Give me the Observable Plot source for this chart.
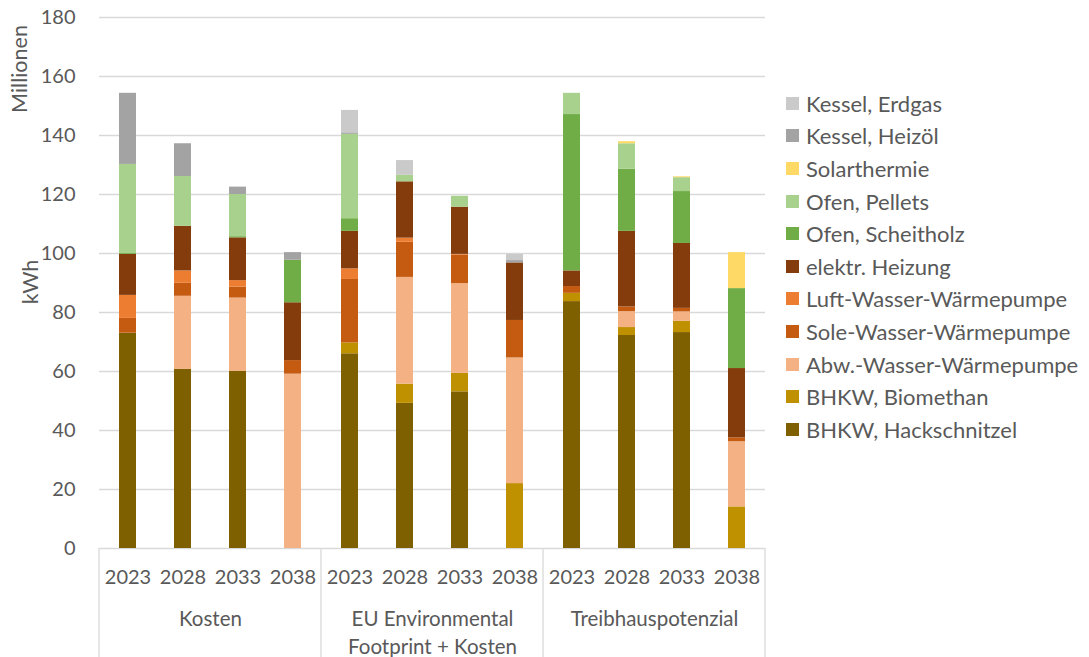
<!DOCTYPE html>
<html>
<head>
<meta charset="utf-8">
<script src="https://cdn.jsdelivr.net/npm/d3@7"></script>
<script src="https://cdn.jsdelivr.net/npm/@observablehq/plot@0.6"></script>
<style>
  body { margin: 0; background: #fff; font-family: Lato, "Open Sans", sans-serif; color: #595959; }
  #wrap { position: relative; width: 1089px; height: 657px; overflow: hidden; }
  #legend { position: absolute; left: 786px; top: 87px; font-size: 22px; }
  #legend .row { display: flex; align-items: center; height: 32.6px; white-space: nowrap; }
  #legend .sw { width: 13px; height: 13px; margin-right: 7px; flex: none; }
  .ylab { position: absolute; font-size: 21.5px; white-space: nowrap;
          transform: translate(-50%, -50%) rotate(-90deg); }
  #unit { left: 19px; top: 69px; }
  #title-y { left: 30px; top: 282px; }
</style>
</head>
<body>
<div id="wrap"></div>
<script>
// Szenarien (Gruppen) und Stützjahre
const groups = ["Kosten", "EU Environmental\nFootprint + Kosten", "Treibhauspotenzial"];
const years = ["2023", "2028", "2033", "2038"];

// Wärmeerzeuger, von unten nach oben gestapelt
const seriesNames = [
  "BHKW, Hackschnitzel",
  "BHKW, Biomethan",
  "Abw.-Wasser-Wärmepumpe",
  "Sole-Wasser-Wärmepumpe",
  "Luft-Wasser-Wärmepumpe",
  "elektr. Heizung",
  "Ofen, Scheitholz",
  "Ofen, Pellets",
  "Solarthermie",
  "Kessel, Heizöl",
  "Kessel, Erdgas"
];
const seriesColors = [
  "#7f6000", "#bf9000", "#f4b183", "#c55a11", "#ed7d31",
  "#843c0c", "#70ad47", "#a9d18e", "#ffd966", "#a3a3a3", "#cacaca"
];

// Wärmemengen in Millionen kWh, je Balken: Kosten 2023..2038, EU EF 2023..2038, THG 2023..2038
const hackschnitzel = [73.0, 60.7, 60.0, 0,    66.0, 49.2, 53.1, 0,    83.7, 72.2, 73.2, 0];
const biomethan     = [0,    0,    0,    0,    3.7,  6.5,  6.3,  22.0, 2.8,  2.7,  3.8,  14.1];
const abwasserWP    = [0,    24.8, 24.9, 59.1, 0,    36.2, 30.4, 42.6, 0,    5.4,  3.2,  22.1];
const soleWP        = [5.0,  4.4,  3.7,  4.6,  21.5, 11.9, 9.7,  12.7, 2.3,  1.6,  1.2,  1.3];
const luftWP        = [7.8,  4.2,  2.2,  0,    3.6,  1.4,  0.2,  0,    0,    0,    0,    0];
const elektrHeizung = [13.9, 15.1, 14.5, 19.6, 12.7, 19.1, 16.0, 19.5, 5.3,  25.6, 22.0, 23.5];
const scheitholz    = [0.3,  0,    0.4,  14.4, 4.3,  0,    0,    0,    53.0, 21.1, 17.6, 27.1];
const pellets       = [30.2, 16.9, 14.3, 0,    28.6, 2.2,  3.7,  0,    7.2,  8.6,  4.7,  0];
const solarthermie  = [0,    0,    0,    0,    0,    0,    0,    0,    0,    0.7,  0.3,  12.2];
const heizoel       = [24.1, 11.1, 2.5,  2.6,  0.5,  0,    0,    0.8,  0,    0,    0,    0];
const erdgas        = [0,    0,    0,    0,    7.6,  5.0,  0,    2.1,  0,    0,    0,    0];

const seriesValues = [
  hackschnitzel, biomethan, abwasserWP, soleWP, luftWP,
  elektrHeizung, scheitholz, pellets, solarthermie, heizoel, erdgas
];

const yTicks = [0, 20, 40, 60, 80, 100, 120, 140, 160, 180];

// Lange Tabelle für den gestapelten Balken
const rows = [];
seriesNames.forEach((name, s) => {
  seriesValues[s].forEach((v, i) => {
    rows.push({
      group: groups[Math.floor(i / years.length)],
      year: years[i % years.length],
      series: name,
      value: v
    });
  });
});

const grid = "#d9d9d9";
const chart = Plot.plot({
  width: 1089,
  height: 657,
  marginLeft: 98,
  marginRight: 324,
  marginTop: 17,
  marginBottom: 109,
  style: { fontFamily: "Lato, 'Open Sans', sans-serif", fontSize: "20px", color: "#595959", background: "white", overflow: "visible" },
  fx: { domain: groups, padding: 0, label: null },
  x: { domain: years, paddingInner: 0.685, paddingOuter: 0.3425, label: null },
  y: { domain: [0, 180], label: null },
  color: { domain: seriesNames, range: seriesColors },
  marks: [
    Plot.gridY(yTicks, { stroke: grid, strokeOpacity: 1, strokeWidth: 1.3 }),
    Plot.axisY(yTicks, { tickSize: 0, tickPadding: 24, fontSize: 20, label: null }),
    Plot.axisX({ tickSize: 0, tickPadding: 21, fontSize: 20, label: null }),
    Plot.axisFx({ anchor: "bottom", tickSize: 0, tickPadding: 58, fontSize: 20.5, lineHeight: 1.35, label: null }),
    Plot.barY(rows, { fx: "group", x: "year", y: "value", fill: "series", order: seriesNames })
  ]
});

const wrap = document.getElementById("wrap");
wrap.appendChild(chart);

// Trennlinien der Kategoriegruppen unterhalb der Achse
const fx = chart.scale("fx");
const y = chart.scale("y");
const edges = groups.map(g => fx.apply(g)).concat(fx.apply(groups[groups.length - 1]) + fx.bandwidth);
d3.select(chart).append("g")
  .selectAll("line").data(edges).join("line")
  .attr("x1", d => d).attr("x2", d => d)
  .attr("y1", y.apply(0)).attr("y2", 657)
  .attr("stroke", grid).attr("stroke-width", 1.3);

// Achsentitel und Einheit
for (const [id, text] of [["unit", "Millionen"], ["title-y", "kWh"]]) {
  const el = document.createElement("div");
  el.id = id;
  el.className = "ylab";
  el.textContent = text;
  wrap.appendChild(el);
}

// Legende (obere Stapelreihe zuerst)
const legend = document.createElement("div");
legend.id = "legend";
seriesNames.slice().reverse().forEach(name => {
  const row = document.createElement("div");
  row.className = "row";
  const sw = document.createElement("span");
  sw.className = "sw";
  sw.style.background = seriesColors[seriesNames.indexOf(name)];
  const label = document.createElement("span");
  label.textContent = name;
  row.appendChild(sw);
  row.appendChild(label);
  legend.appendChild(row);
});
wrap.appendChild(legend);
</script>
</body>
</html>
